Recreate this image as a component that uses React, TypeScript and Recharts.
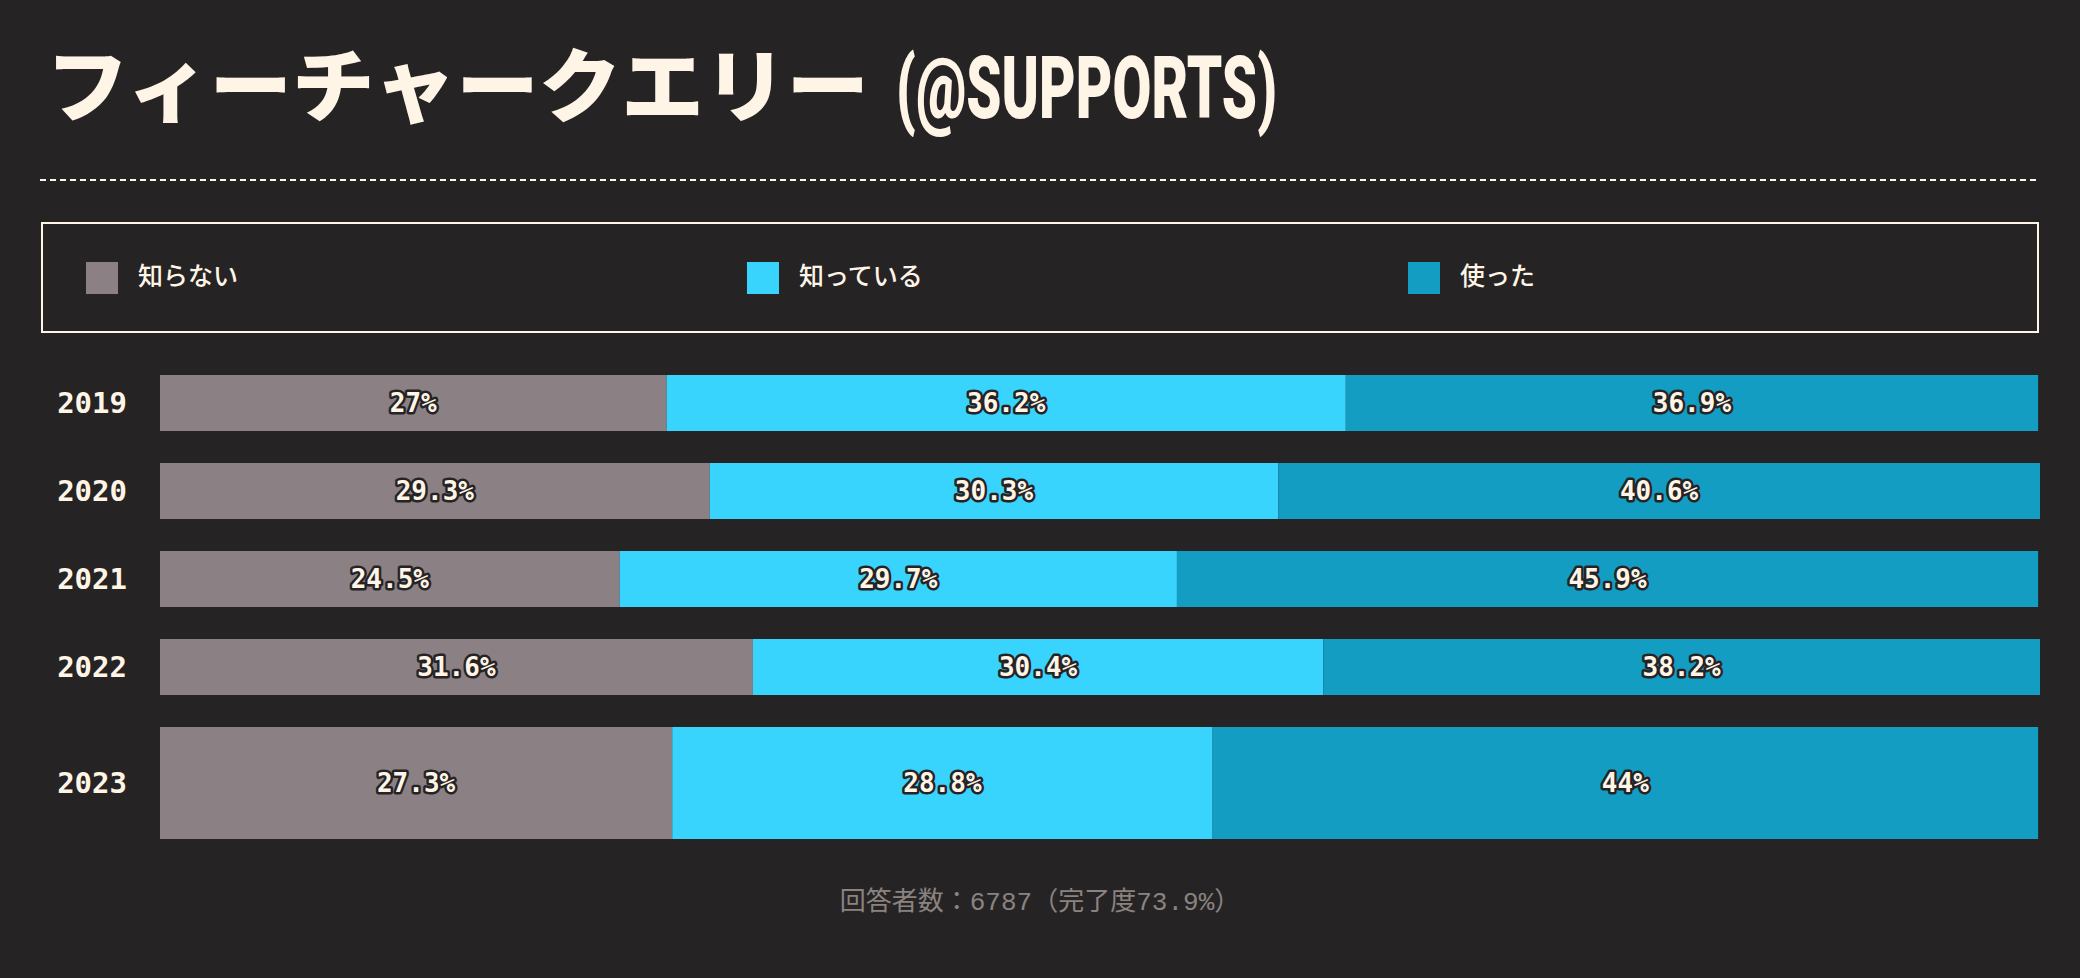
import React from "react";
import { BarChart, Bar, XAxis, YAxis } from "recharts";

const years = ["2019", "2020", "2021", "2022", "2023"];
const unknownShare = [27, 29.3, 24.5, 31.6, 27.3];
const knownShare = [36.2, 30.3, 29.7, 30.4, 28.8];
const usedShare = [36.9, 40.6, 45.9, 38.2, 44];

const seriesKeys = ["unknown", "known", "used"];
const seriesNames = ["知らない", "知っている", "使った"];
const seriesColors = ["#8b8185", "#38d4fd", "#139dc2"];

const highlightYear = "2023";
const respondents = 6787;
const completion = 73.9;

const BG = "#262325";
const CREAM = "#fff5e6";
const BAR_SIZE = 56;
const MONO = "'DejaVu Sans Mono', monospace";

const data = years.map((year, i) => ({
  year,
  unknown: unknownShare[i],
  known: knownShare[i],
  used: usedShare[i],
}));

function YearTick({ x, y, payload }: any) {
  const shift = payload.value === highlightYear ? BAR_SIZE / 2 : 0;
  return (
    <text
      x={x}
      y={y + shift}
      textAnchor="end"
      dominantBaseline="central"
      fill={CREAM}
      style={{ fontFamily: MONO, fontWeight: 700, fontSize: 29 }}
    >
      {payload.value}
    </text>
  );
}

function makeSegment(key: string) {
  return function Segment(props: any) {
    const { x, y, width, height, payload, fill } = props;
    if (width == null || height == null) return null;
    // the latest year is drawn twice as tall
    const h = payload.year === highlightYear ? height * 2 : height;
    const v = payload[key];
    return (
      <g>
        <rect x={x} y={y} width={width} height={h} fill={fill} />
        <text
          x={x + width / 2}
          y={y + h / 2}
          textAnchor="middle"
          dominantBaseline="central"
          fill={CREAM}
          stroke={BG}
          strokeWidth={5}
          strokeLinejoin="round"
          style={{ paintOrder: "stroke", fontFamily: MONO, fontWeight: 700, fontSize: 26 }}
        >
          {v}%
        </text>
      </g>
    );
  };
}

export default function App() {
  return (
    <div style={{ position: "absolute", left: 0, top: 0, width: 2080, height: 978, background: BG, overflow: "hidden" }}>
      <svg width={2080} height={200} style={{ position: "absolute", left: 0, top: 0 }}>
        <text
          x={46}
          y={115}
          fill={CREAM}
          textLength={823}
          lengthAdjust="spacingAndGlyphs"
          style={{ fontFamily: "'Noto Sans CJK JP', sans-serif", fontWeight: 900, fontSize: 80 }}
        >
          フィーチャークエリー
        </text>
        <text
          x={896}
          y={118}
          fill={CREAM}
          textLength={381}
          lengthAdjust="spacingAndGlyphs"
          style={{ fontFamily: "Roboto, sans-serif", fontWeight: 900, fontSize: 88 }}
        >
          (@SUPPORTS)
        </text>
        <line x1={40} y1={180} x2={2040} y2={180} stroke={CREAM} strokeWidth={2} strokeDasharray="6 4" />
      </svg>

      <div
        style={{
          position: "absolute",
          left: 41,
          top: 222,
          width: 1998,
          height: 111,
          boxSizing: "border-box",
          border: `2px solid ${CREAM}`,
          display: "flex",
          alignItems: "center",
          paddingLeft: 43,
        }}
      >
        {seriesNames.map((name, i) => (
          <div key={name} style={{ width: 661, flexShrink: 0, display: "flex", alignItems: "center" }}>
            <div style={{ width: 32, height: 32, background: seriesColors[i], marginRight: 20 }} />
            <span
              style={{
                position: "relative",
                top: -4,
                color: CREAM,
                fontFamily: "'Noto Sans CJK JP', sans-serif",
                fontSize: 25,
                fontWeight: 500,
              }}
            >
              {name}
            </span>
          </div>
        ))}
      </div>

      <div style={{ position: "absolute", left: 0, top: 0 }}>
        <BarChart
          layout="vertical"
          width={2080}
          height={978}
          data={data}
          margin={{ top: 359, right: 40, bottom: 179, left: 40 }}
          barSize={BAR_SIZE}
        >
          <XAxis type="number" domain={[0, 100.2]} hide />
          <YAxis
            type="category"
            dataKey="year"
            width={120}
            axisLine={false}
            tickLine={false}
            tickSize={0}
            tickMargin={33}
            tick={<YearTick />}
          />
          {seriesKeys.map((key, i) => (
            <Bar
              key={key}
              dataKey={key}
              name={seriesNames[i]}
              stackId="share"
              fill={seriesColors[i]}
              isAnimationActive={false}
              shape={makeSegment(key)}
            />
          ))}
        </BarChart>
      </div>

      <div
        style={{
          position: "absolute",
          left: 0,
          top: 884,
          width: 2080,
          textAlign: "center",
          lineHeight: "30px",
          color: "#8a8380",
          fontFamily: "'Noto Sans CJK JP', sans-serif",
          fontSize: 26,
        }}
      >
        回答者数：<span style={{ fontFamily: "'Liberation Mono', monospace" }}>{respondents}</span>（完了度
        <span style={{ fontFamily: "'Liberation Mono', monospace" }}>{completion}%</span>）
      </div>
    </div>
  );
}
